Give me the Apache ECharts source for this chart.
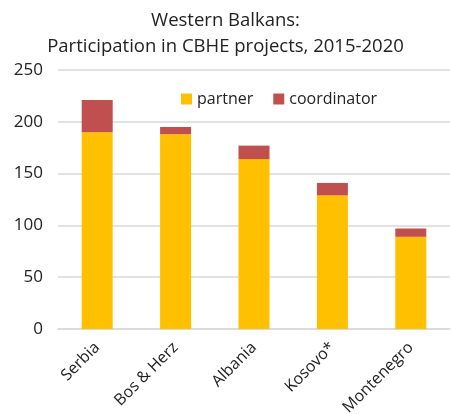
<!DOCTYPE html>
<html>
<head>
<meta charset="utf-8">
<script src="https://cdn.jsdelivr.net/npm/echarts@6/dist/echarts.min.js"></script>
<style>
  html, body { margin: 0; padding: 0; background: #fff; }
  #main { width: 451px; height: 414px; }
</style>
</head>
<body>
<div id="main"></div>
<script>
const categories = ["Serbia", "Bos & Herz", "Albania", "Kosovo*", "Montenegro"];
const partner = [190, 188, 164, 129, 89];
const coordinator = [31, 7, 13, 12, 8];
const yTicks = [0, 50, 100, 150, 200, 250];

const chart = echarts.init(document.getElementById("main"));
const font = "'Open Sans', sans-serif";

const option = {
  animation: false,
  textStyle: { fontFamily: font },
  title: {
    text: "Western Balkans:\nParticipation in CBHE projects, 2015-2020",
    left: "center",
    top: 3,
    textStyle: { fontFamily: font, fontSize: 18.5, fontWeight: "normal", color: "#222", lineHeight: 26 }
  },
  legend: {
    top: 86,
    left: 176,
    itemWidth: 11,
    itemHeight: 11,
    itemGap: 20,
    icon: "rect",
    textStyle: { fontFamily: font, fontSize: 16, color: "#222" },
    data: ["partner", "coordinator"]
  },
  grid: { left: 58, right: 1, top: 70, bottom: 85, containLabel: false, outerBoundsMode: "none" },
  xAxis: {
    type: "category",
    data: categories,
    axisTick: { show: false },
    axisLine: { lineStyle: { color: "#d9d9d9", width: 1.5 } },
    axisLabel: { rotate: 45, fontSize: 16, color: "#222", margin: 16, fontFamily: font }
  },
  yAxis: {
    type: "value",
    min: yTicks[0],
    max: yTicks[yTicks.length - 1],
    interval: 50,
    axisLine: { show: false },
    axisTick: { show: false },
    axisLabel: { fontSize: 17, color: "#222", margin: 15, fontFamily: font },
    splitLine: { lineStyle: { color: "#d9d9d9", width: 1.5 } }
  },
  series: [
    {
      name: "partner",
      type: "bar",
      stack: "total",
      barWidth: 31,
      data: partner,
      itemStyle: { color: "#FFC000" }
    },
    {
      name: "coordinator",
      type: "bar",
      stack: "total",
      barWidth: 31,
      data: coordinator,
      itemStyle: { color: "#C0504D" }
    }
  ]
};

chart.setOption(option);
</script>
</body>
</html>
